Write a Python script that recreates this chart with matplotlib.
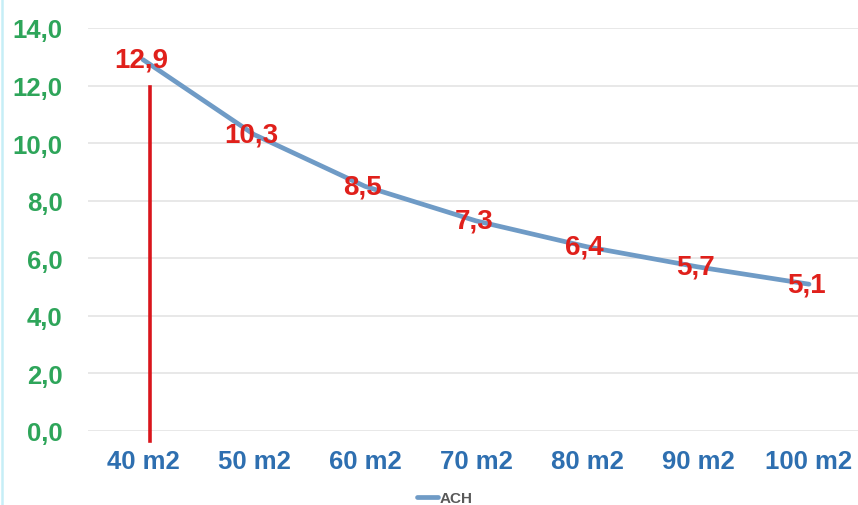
import matplotlib.pyplot as plt
from matplotlib.lines import Line2D

plt.rcParams['font.family'] = ['Liberation Sans', 'DejaVu Sans']

categories = ['40 m2', '50 m2', '60 m2', '70 m2', '80 m2', '90 m2', '100 m2']
ach = [12.9, 10.3, 8.5, 7.3, 6.4, 5.7, 5.1]
yticks = [0, 2, 4, 6, 8, 10, 12, 14]
marker_top = 11.95

fig = plt.figure(figsize=(8.58, 5.06), dpi=100)
# plot area runs a little past the right edge of the figure
ax = fig.add_axes([87.5 / 858, 1 - 432 / 506, 777 / 858, (432 - 29) / 506])

x = list(range(len(categories)))
ax.plot(x, ach, color='#6f9bc6', lw=3.4, solid_joinstyle='round',
        solid_capstyle='round', label='ACH', zorder=3)

# red reference line at the first category
ax.plot([0.065, 0.065], [-0.35, marker_top], color='#d9161c', lw=2.6,
        clip_on=False, zorder=2)

for xi, v in zip(x, ach):
    ax.text(xi - 0.02, v, f'{v:.1f}'.replace('.', ','), color='#e0201b',
            fontsize=20, fontweight='bold', ha='center', va='center', zorder=4)

ax.set_xlim(-0.5, 6.5)
ax.set_ylim(0, 14)
ax.set_yticks(yticks)
ax.set_yticklabels([f'{t:.1f}'.replace('.', ',') for t in yticks])
ax.set_xticks(x)
ax.set_xticklabels(categories)
ax.tick_params(axis='y', length=0, pad=18, labelsize=18.5, labelcolor='#2ea55a')
ax.tick_params(axis='x', length=0, pad=13, labelsize=18.5, labelcolor='#2e6fb0')
for lbl in ax.get_xticklabels() + ax.get_yticklabels():
    lbl.set_fontweight('bold')

ax.yaxis.grid(True, color='#e4e4e4', lw=1.2)
ax.set_axisbelow(True)
for s in ax.spines.values():
    s.set_visible(False)

fig.legend(*ax.get_legend_handles_labels(), loc='center',
           bbox_to_anchor=(445 / 858, 1 - 499 / 506), frameon=False,
           prop={'size': 11, 'weight': 'bold'}, handlelength=1.4,
           handletextpad=0.1, labelcolor='#595959')

# thin cyan border on the left edge
fig.add_artist(Line2D([2 / 858, 2 / 858], [0, 1], color='#c6eef7', lw=1.8))

fig.savefig('out.png', dpi=100)
